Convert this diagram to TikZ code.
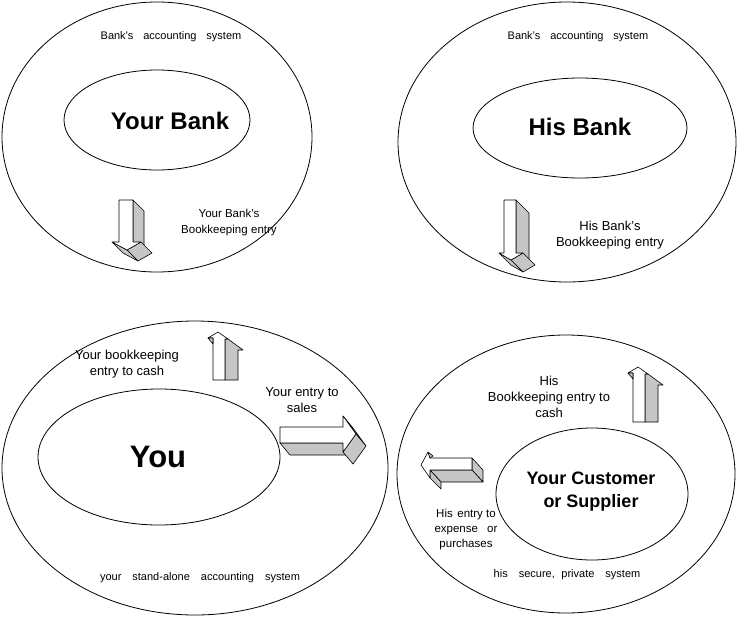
\documentclass[tikz,border=0pt]{standalone}
\usepackage{fontspec}
\setmainfont{Liberation Sans}
\usetikzlibrary{shapes.geometric}
\begin{document}
\begin{tikzpicture}[x=1pt,y=-1pt,
 ell/.style={draw, ellipse, line width=0.8pt, inner sep=0pt, outer sep=0pt},
 face/.style={draw, fill=gray!45, line join=round, line width=0.6pt},
 front/.style={draw, fill=white, line join=round, line width=0.6pt},
 small/.style={font=\fontsize{11}{13}\selectfont, align=center, inner sep=0pt},
 lbl/.style={font=\fontsize{13}{16}\selectfont, align=center, inner sep=0pt},
 big/.style={font=\bfseries\fontsize{24}{28}\selectfont, inner sep=0pt}]
\useasboundingbox (0,0) rectangle (739,619);

% ellipses
\node[ell, minimum width=310pt, minimum height=270pt] (tlout) at (157,137) {};
\node[ell, minimum width=186pt, minimum height=100pt] (tlin) at (157,120) {};
\node[ell, minimum width=338pt, minimum height=280pt] (trout) at (567,142) {};
\node[ell, minimum width=214pt, minimum height=100pt] (trin) at (580,128) {};
\node[ell, minimum width=386pt, minimum height=294pt] (blout) at (195,468) {};
\node[ell, minimum width=242pt, minimum height=136pt] (blin) at (159,457) {};
\node[ell, minimum width=338pt, minimum height=278pt] (brout) at (566,474) {};
\node[ell, minimum width=192pt, minimum height=132pt] (brin) at (592,494) {};

% TL down arrow
\draw[face] (133,200) -- (144,211) -- (144,253) -- (133,242) -- cycle;
\draw[face] (141,242) -- (152,253) -- (138,261) -- (127,250) -- cycle;
\draw[face] (112,242) -- (127,250) -- (138,261) -- (123,253) -- cycle;
\draw[front] (119,200) -- (133,200) -- (133,242) -- (141,242) -- (127,250) -- (112,242) -- (119,242) -- cycle;

% TR down arrow
\draw[face] (516,200) -- (529,213) -- (529,266) -- (516,253) -- cycle;
\draw[face] (523,253) -- (535,265) -- (523,272) -- (511,260) -- cycle;
\draw[face] (499,253) -- (511,260) -- (523,272) -- (511,265) -- cycle;
\draw[front] (504,200) -- (516,200) -- (516,253) -- (523,253) -- (511,260) -- (499,253) -- (504,253) -- cycle;

% BL up arrow
\draw[face] (225,339) -- (228,339) -- (243,350) -- (238,350) -- (238,380) -- (225,380) -- cycle;
\draw[front] (213,380) -- (213,338) -- (208,338) -- (218,332) -- (228,339) -- (225,339) -- (225,380) -- cycle;
\draw[face] (208,338) -- (213,338) -- (213,344) -- cycle;

% BR up arrow
\draw[face] (645,374) -- (648,374) -- (663,385) -- (658,385) -- (658,422) -- (645,422) -- cycle;
\draw[front] (633,422) -- (633,373) -- (628,373) -- (638,367) -- (648,374) -- (645,374) -- (645,422) -- cycle;
\draw[face] (628,373) -- (633,373) -- (633,379) -- cycle;

% BL right arrow
\draw[face] (280,443) -- (343,443) -- (353,455) -- (290,455) -- cycle;
\draw[face] (343,416) -- (356,434) -- (366,446) -- (353,428) -- cycle;
\draw[face] (343,452) -- (356,434) -- (366,446) -- (353,464) -- cycle;
\draw[front] (280,427) -- (343,427) -- (343,416) -- (356,434) -- (343,452) -- (343,443) -- (280,443) -- cycle;

% BR left arrow
\draw[face] (472,458) -- (483,470) -- (483,482) -- (472,470) -- cycle;
\draw[face] (430,470) -- (472,470) -- (483,482) -- (441,482) -- cycle;
\draw[face] (430,470) -- (430,478) -- (441,489) -- (441,482) -- cycle;
\draw[front] (472,458) -- (472,470) -- (430,470) -- (430,478) -- (421,465) -- (428,452) -- (430,458) -- cycle;
\draw[face] (428,452) -- (433,456) -- (430,458) -- cycle;

% texts
\node[small] (tlsys) at (171,37) {Bank's\hspace{0.9em}accounting\hspace{0.9em}system};
\node[small] (trsys) at (578,37) {Bank's\hspace{0.9em}accounting\hspace{0.9em}system};
\node[big] (yb) at (170,121) {Your Bank};
\node[big] (hb) at (580,127) {His Bank};
\node[font=\fontsize{11.5}{16}\selectfont, align=center, inner sep=0pt] (ybe) at (229,223) {Your Bank's\\Bookkeeping\hspace{.3em}entry};
\node[lbl] (hbe) at (610,235) {His Bank's\\Bookkeeping\hspace{.3em}entry};
\node[lbl] (ybc) at (127,364) {Your\hspace{.3em}bookkeeping\\entry to cash};
\node[lbl] (yes) at (302,400) {Your entry to\\sales};
\node[font=\bfseries\fontsize{31}{36}\selectfont, inner sep=0pt] (you) at (158,457) {You};
\node[lbl] (hbc) at (549,397) {His\\Bookkeeping entry to\\cash};
\node[font=\bfseries\fontsize{18}{23}\selectfont, align=center, inner sep=0pt] (cust) at (591,492) {Your Customer\\or Supplier};
\node[font=\fontsize{11.5}{15}\selectfont, align=center, inner sep=0pt] (hexp) at (466,530) {His\hspace{.4em}entry to\\expense\hspace{.8em}or\\purchases};
\node[small] (ysys) at (200,578) {your\hspace{1em}stand-alone\hspace{1em}accounting\hspace{1em}system};
\node[small] (hsys) at (567,575) {his\hspace{1em}secure,\hspace{.6em}private\hspace{1em}system};
\end{tikzpicture}
\end{document}
